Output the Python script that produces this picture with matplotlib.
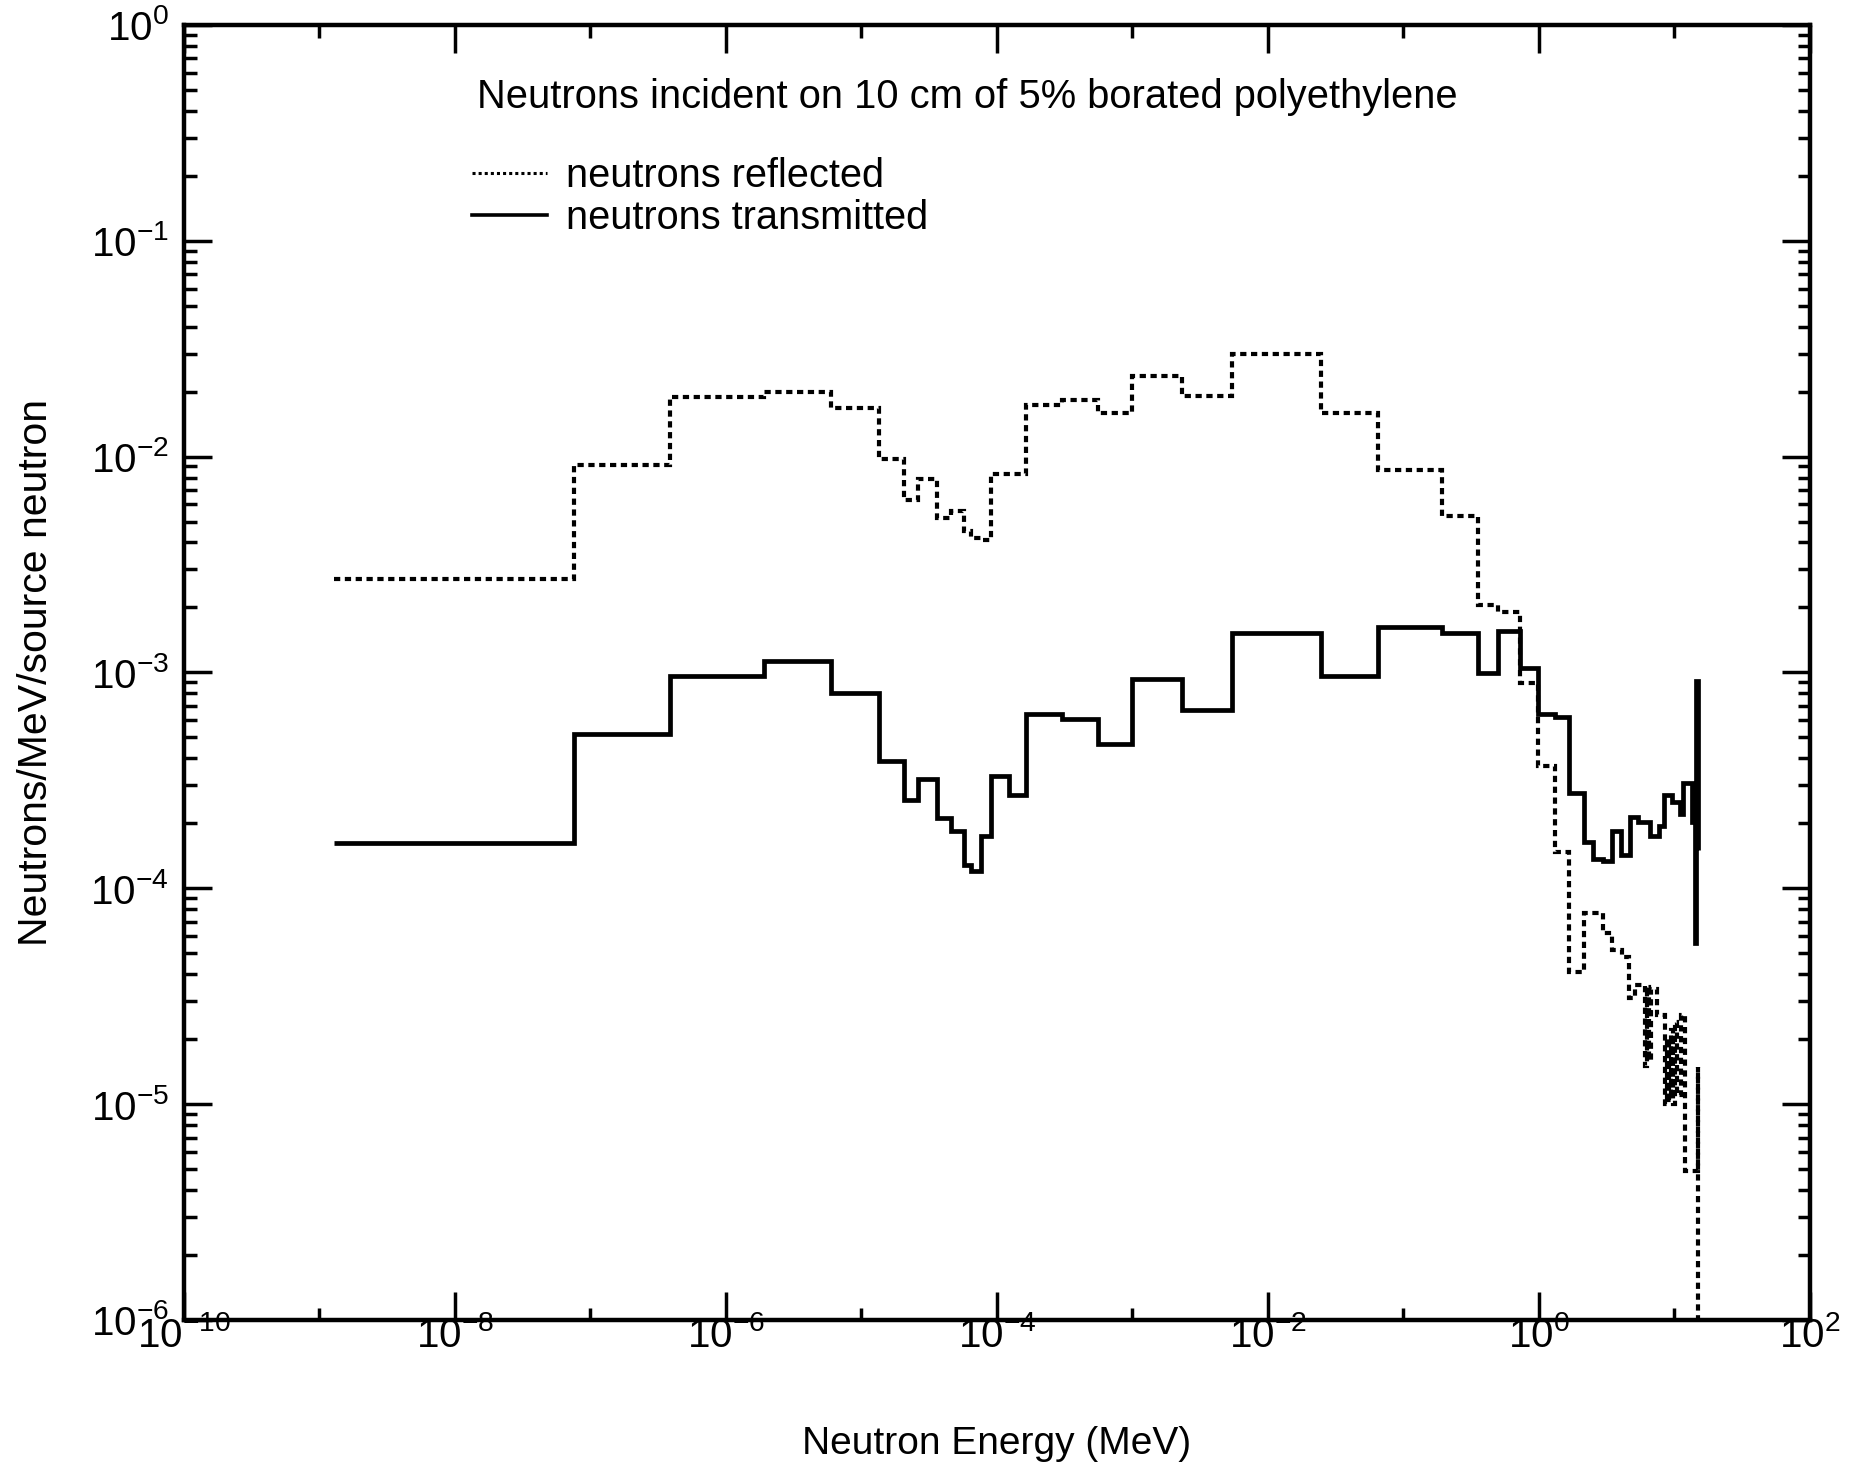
"""
Neutron spectra behind / in front of a borated polyethylene slab (log-log histogram)
"""

import matplotlib
matplotlib.use("Agg")
import matplotlib.pyplot as plt
from matplotlib.lines import Line2D
from matplotlib.ticker import FixedLocator, LogLocator, LogFormatterSciNotation, NullFormatter

plt.rcParams['font.family'] = ['Liberation Sans', 'DejaVu Sans']
plt.rcParams['mathtext.fontset'] = 'custom'
plt.rcParams['mathtext.rm'] = 'Liberation Sans'
plt.rcParams['mathtext.it'] = 'Liberation Sans:italic'
plt.rcParams['mathtext.bf'] = 'Liberation Sans:bold'
plt.rcParams['axes.unicode_minus'] = False

# --- data (energies in MeV, values in neutrons/MeV/source neutron) ---
trans_edges = [1.29e-9, 7.52e-8, 3.85e-7, 1.91e-6, 5.93e-6, 1.34e-5, 2.07e-5, 2.63e-5,
               3.63e-5, 4.57e-5, 5.69e-5, 6.46e-5, 7.59e-5, 9.02e-5, 1.23e-4, 1.63e-4,
               3.02e-4, 5.56e-4, 9.89e-4, 2.34e-3, 5.40e-3, 2.45e-2, 6.50e-2, 0.193,
               0.356, 0.495, 0.729, 0.989, 1.32, 1.66, 2.14, 2.51, 2.99, 3.44, 4.03,
               4.70, 5.42, 6.61, 7.67, 8.32, 9.62, 11.0, 11.5, 13.4, 14.2, 14.5, 14.8, 15.0]
trans_vals = [1.62e-4, 5.2e-4, 9.6e-4, 1.13e-3, 8.05e-4, 3.9e-4, 2.57e-4, 3.2e-4,
              2.12e-4, 1.85e-4, 1.28e-4, 1.2e-4, 1.74e-4, 3.3e-4, 2.7e-4, 6.4e-4,
              6.1e-4, 4.67e-4, 9.3e-4, 6.7e-4, 1.52e-3, 9.6e-4, 1.62e-3, 1.53e-3,
              9.9e-4, 1.55e-3, 1.05e-3, 6.45e-4, 6.2e-4, 2.77e-4, 1.64e-4, 1.37e-4,
              1.34e-4, 1.85e-4, 1.42e-4, 2.14e-4, 2.02e-4, 1.74e-4, 1.95e-4, 2.7e-4,
              2.5e-4, 2.2e-4, 3.06e-4, 2.03e-4, 5.6e-5, 9.1e-4, 1.5e-4]

refl_edges = [1.29e-9, 7.52e-8, 3.85e-7, 1.91e-6, 5.93e-6, 1.34e-5, 2.07e-5, 2.63e-5,
              3.63e-5, 4.57e-5, 5.69e-5, 6.46e-5, 7.59e-5, 9.02e-5, 1.63e-4, 3.02e-4,
              5.56e-4, 9.89e-4, 2.34e-3, 5.40e-3, 2.45e-2, 6.50e-2, 0.193, 0.356,
              0.495, 0.729, 0.989, 1.32, 1.66, 2.14, 2.99, 3.47, 4.07, 4.62, 5.13,
              6.10, 6.31, 6.53, 6.76, 7.45, 8.51, 8.81, 9.12, 9.44, 9.77, 10.1, 10.5,
              11.1, 12.0, 14.8, 15.0, 15.1]
refl_vals = [2.7e-3, 9.1e-3, 1.89e-2, 2.0e-2, 1.68e-2, 9.7e-3, 6.3e-3, 7.9e-3,
             5.2e-3, 5.6e-3, 4.5e-3, 4.2e-3, 4.1e-3, 8.3e-3, 1.73e-2, 1.82e-2,
             1.6e-2, 2.35e-2, 1.91e-2, 3.0e-2, 1.6e-2, 8.7e-3, 5.3e-3, 2.05e-3,
             1.9e-3, 8.9e-4, 3.7e-4, 1.48e-4, 4.1e-5, 7.7e-5, 6.2e-5, 5.2e-5,
             4.8e-5, 3.1e-5, 3.55e-5, 1.5e-5, 3.5e-5, 1.6e-5, 3.4e-5, 2.6e-5,
             1.0e-5, 2.0e-5, 1.05e-5, 2.2e-5, 1.0e-5, 2.4e-5, 1.1e-5, 2.6e-5,
             4.9e-6, 1.48e-5, 1e-7]

title_text = "Neutrons incident on 10 cm of 5% borated polyethylene"
legend_labels = ["neutrons reflected", "neutrons transmitted"]
x_label = "Neutron Energy (MeV)"
y_label = "Neutrons/MeV/source neutron"


def make_plot():
    fig = plt.figure(figsize=(18.6, 14.65), dpi=100)
    fig.patch.set_facecolor('white')
    ax = fig.add_axes([0.0989, 0.099, 0.8742, 0.884])

    dotted = (0, (1.5, 1.1))
    ax.stairs(refl_vals, refl_edges, baseline=None, color='black',
              linewidth=3.0, linestyle=dotted)
    ax.stairs(trans_vals, trans_edges, baseline=None, color='black',
              linewidth=3.4)

    ax.set_xscale('log')
    ax.set_yscale('log')
    ax.set_xlim(1e-10, 1e2)
    ax.set_ylim(1e-6, 1e0)

    # x: labelled ticks every second decade, short ticks in between
    ax.xaxis.set_major_locator(FixedLocator([10.0 ** k for k in range(-10, 3, 2)]))
    ax.xaxis.set_minor_locator(FixedLocator([10.0 ** k for k in range(-9, 2, 2)]))
    ax.xaxis.set_major_formatter(LogFormatterSciNotation())
    ax.xaxis.set_minor_formatter(NullFormatter())
    ax.yaxis.set_major_locator(LogLocator(base=10, numticks=10))
    ax.yaxis.set_minor_locator(LogLocator(base=10, subs=range(2, 10), numticks=10))
    ax.yaxis.set_minor_formatter(NullFormatter())

    ax.tick_params(which='both', direction='in', top=True, right=True,
                   width=2.5, labelsize=29)
    ax.tick_params(axis='x', which='major', length=20, pad=-3)
    ax.tick_params(axis='x', which='minor', length=9)
    ax.tick_params(axis='y', which='major', length=20, pad=11)
    ax.tick_params(axis='y', which='minor', length=9)
    for s in ax.spines.values():
        s.set_linewidth(3.2)

    ax.set_xlabel(x_label, fontsize=28)
    ax.xaxis.set_label_coords(0.5, -0.082)
    ax.set_ylabel(y_label, fontsize=29.5)
    ax.yaxis.set_label_coords(-0.091, 0.5)
    ax.yaxis.label.set_verticalalignment('center')

    ax.text(0.180, 0.944, title_text, transform=ax.transAxes, fontsize=28.7,
            ha='left', va='center')

    handles = [Line2D([], [], color='black', linewidth=2.2, linestyle=(0, (1.0, 1.0))),
               Line2D([], [], color='black', linewidth=2.6)]
    ax.legend(handles, legend_labels, loc='upper left', bbox_to_anchor=(0.177, 0.898),
              frameon=False, fontsize=28.6, borderpad=0, borderaxespad=0,
              handlelength=1.9, handletextpad=0.47, labelspacing=0.1)
    return fig


if __name__ == "__main__":
    fig = make_plot()
    fig.savefig("out.png", dpi=100, facecolor='white')
    plt.close(fig)
